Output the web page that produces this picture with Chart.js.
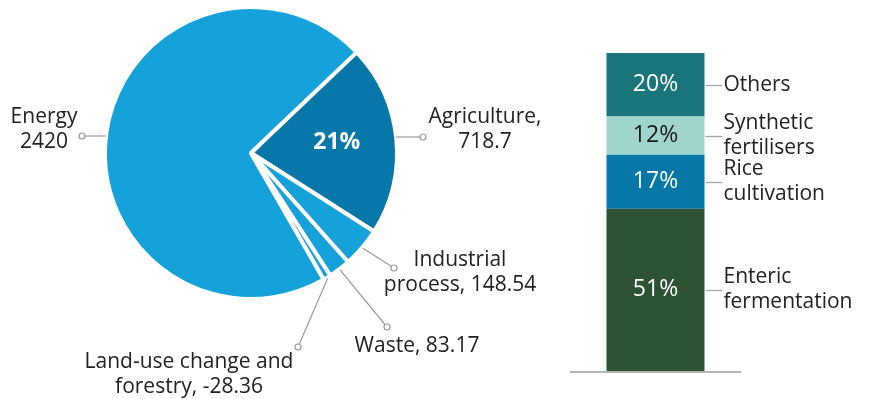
<!DOCTYPE html>
<html>
<head>
<meta charset="utf-8">
<script src="https://cdn.jsdelivr.net/npm/chart.js@4.4.1/dist/chart.umd.min.js"></script>
<style>
  html, body { margin: 0; padding: 0; background: #fff; }
  .wrap { position: relative; width: 869px; height: 399px; overflow: hidden; }
  #pie-chart { position: absolute; left: 0; top: 0; }
  #share-chart { position: absolute; left: 560px; top: 0; }
</style>
</head>
<body>
<div class="wrap">
  <canvas id="pie-chart" width="869" height="399"></canvas>
  <canvas id="share-chart" width="309" height="399"></canvas>
</div>
<script>
// emissions by sector
const sectors = ["Energy", "Agriculture", "Industrial process", "Waste", "Land-use change and forestry"];
const emissions = [2420, 718.7, 148.54, 83.17, -28.36];
const sectorColors = ["#15a2da", "#0777aa", "#15a2da", "#15a2da", "#15a2da"];

// breakdown of agriculture (stacked bottom to top)
const agriSources = ["Enteric fermentation", "Rice cultivation", "Synthetic fertilisers", "Others"];
const agriShares = [51, 17, 12, 20];
const agriColors = ["#2d5234", "#0777a8", "#a0d5ce", "#1a747c"];
const agriTextColors = ["#fff", "#fff", "#1a1a1a", "#fff"];

const FONT = '"Open Sans", "Noto Sans", sans-serif';
const TEXT = "#222";
const LEADER = "#999";

// where each sector callout goes: dot = end of leader line, text = centre of first line
const calloutLayout = [
  { dot: [82, 136], text: [44, 117], wrap: 100, sep: " ", flat: true },
  { dot: [423, 137], text: [485, 117], wrap: 160, sep: ", ", flat: true },
  { dot: [394, 268], text: [460, 260], wrap: 160, sep: ", " },
  { dot: [387, 327], text: [417, 346], wrap: 160, sep: ", " },
  { dot: [298, 347], text: [189, 362], wrap: 220, sep: ", " },
];

const wrapText = (ctx, str, maxWidth) => {
  const words = str.split(" ");
  const lines = [];
  let line = "";
  words.forEach((w) => {
    const test = line ? line + " " + w : w;
    if (line && ctx.measureText(test).width > maxWidth) {
      lines.push(line);
      line = w;
    } else {
      line = test;
    }
  });
  lines.push(line);
  return lines;
};

const dot = (ctx, x, y) => {
  ctx.beginPath();
  ctx.arc(x, y, 3, 0, Math.PI * 2);
  ctx.fillStyle = "#fff";
  ctx.fill();
  ctx.strokeStyle = LEADER;
  ctx.lineWidth = 1.2;
  ctx.stroke();
};

const pieCallouts = {
  id: "pieCallouts",
  afterDraw(chart) {
    const ctx = chart.ctx;
    const arcs = chart.getDatasetMeta(0).data;
    const total = emissions.reduce((s, v) => s + Math.abs(v), 0);
    ctx.save();
    ctx.textAlign = "center";
    ctx.textBaseline = "middle";

    arcs.forEach((arc, i) => {
      const c = calloutLayout[i];
      const { x, y, startAngle, endAngle, outerRadius } = arc.getProps(["x", "y", "startAngle", "endAngle", "outerRadius"], true);
      let sx, sy;
      if (c.flat) {
        // horizontal leader starting at the pie edge
        const dy = c.dot[1] - y;
        const dx = Math.sqrt(outerRadius * outerRadius - dy * dy);
        sx = c.dot[0] < x ? x - dx : x + dx;
        sy = c.dot[1];
      } else {
        const mid = (startAngle + endAngle) / 2;
        sx = x + Math.cos(mid) * (outerRadius + 1);
        sy = y + Math.sin(mid) * (outerRadius + 1);
      }
      ctx.beginPath();
      ctx.moveTo(sx, sy);
      ctx.lineTo(c.dot[0], c.dot[1]);
      ctx.strokeStyle = LEADER;
      ctx.lineWidth = 1.2;
      ctx.stroke();
      dot(ctx, c.dot[0], c.dot[1]);

      ctx.font = "21px " + FONT;
      ctx.fillStyle = TEXT;
      const lines = wrapText(ctx, sectors[i] + c.sep + emissions[i], c.wrap);
      lines.forEach((ln, k) => ctx.fillText(ln, c.text[0], c.text[1] + k * 25));
    });

    // share of agriculture inside its slice
    const agri = arcs[1].getProps(["x", "y", "startAngle", "endAngle", "outerRadius"], true);
    const mid = (agri.startAngle + agri.endAngle) / 2;
    const r = agri.outerRadius * 0.59;
    ctx.font = "bold 23px " + FONT;
    ctx.fillStyle = "#fff";
    ctx.fillText(Math.round((Math.abs(emissions[1]) / total) * 100) + "%", agri.x + Math.cos(mid) * r, agri.y + Math.sin(mid) * r - 2);
    ctx.restore();
  },
};

const barCallouts = {
  id: "barCallouts",
  afterDraw(chart) {
    const ctx = chart.ctx;
    const area = chart.chartArea;
    ctx.save();

    // baseline under the bar
    ctx.beginPath();
    ctx.moveTo(area.left, area.bottom + 1);
    ctx.lineTo(area.right, area.bottom + 1);
    ctx.strokeStyle = "#b4b4b4";
    ctx.lineWidth = 2;
    ctx.stroke();

    ctx.textBaseline = "middle";
    chart.data.datasets.forEach((ds, i) => {
      const bar = chart.getDatasetMeta(i).data[0];
      const { x, y, base, width } = bar.getProps(["x", "y", "base", "width"], true);
      const midY = (y + base) / 2;

      ctx.font = "23px " + FONT;
      ctx.textAlign = "center";
      ctx.fillStyle = agriTextColors[i];
      ctx.fillText(agriShares[i] + "%", x, midY);

      const edge = x + width / 2;
      ctx.beginPath();
      ctx.moveTo(edge + 1, Math.round(midY) + 0.5);
      ctx.lineTo(edge + 18, Math.round(midY) + 0.5);
      ctx.strokeStyle = "#a6a6a6";
      ctx.lineWidth = 1.3;
      ctx.stroke();

      const lines = agriSources[i].split(" ");
      ctx.font = "21px " + FONT;
      ctx.textAlign = "left";
      ctx.fillStyle = TEXT;
      const top = midY - ((lines.length - 1) * 25) / 2;
      lines.forEach((ln, k) => ctx.fillText(ln, edge + 19, top + k * 25));
    });
    ctx.restore();
  },
};

const drawCharts = () => {
  new Chart(document.getElementById("pie-chart"), {
    type: "pie",
    data: {
      labels: sectors,
      datasets: [
        {
          data: emissions.map((v) => Math.abs(v)),
          backgroundColor: sectorColors,
          borderColor: "#fff",
          borderWidth: 4,
        },
      ],
    },
    options: {
      responsive: false,
      animation: false,
      rotation: 150.1,
      layout: { padding: { left: 103, top: 5, right: 470, bottom: 98 } },
      plugins: { legend: { display: false }, tooltip: { enabled: false } },
    },
    plugins: [pieCallouts],
  });

  new Chart(document.getElementById("share-chart"), {
    type: "bar",
    data: {
      labels: ["Agriculture"],
      datasets: agriSources.map((name, i) => ({
        label: name,
        data: [agriShares[i]],
        backgroundColor: agriColors[i],
        barPercentage: 0.573,
        categoryPercentage: 1,
      })),
    },
    options: {
      responsive: false,
      animation: false,
      layout: { padding: { left: 10, right: 128, top: 53, bottom: 28 } },
      scales: {
        x: { stacked: true, display: false },
        y: { stacked: true, display: false, min: 0, max: 100 },
      },
      plugins: { legend: { display: false }, tooltip: { enabled: false } },
    },
    plugins: [barCallouts],
  });
};

Promise.all([
  document.fonts.load('21px "Open Sans"'),
  document.fonts.load('bold 23px "Open Sans"'),
]).then(drawCharts, drawCharts);
</script>
</body>
</html>
